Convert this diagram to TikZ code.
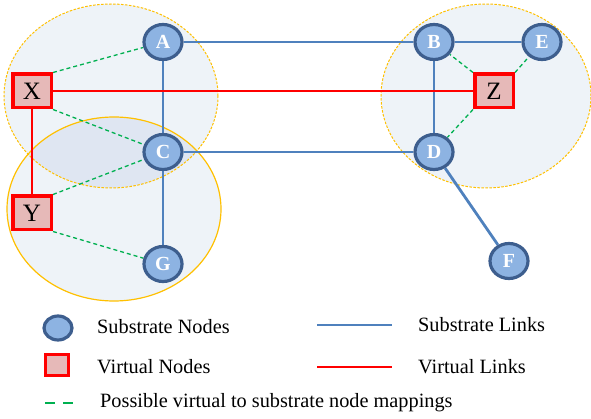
\documentclass[tikz,border=0pt]{standalone}
\usepackage{fontspec}
\setmainfont{Liberation Serif}
\usetikzlibrary{shapes.geometric}
\pgfdeclarelayer{regions}
\pgfdeclarelayer{links}
\pgfsetlayers{regions,links,main}
\definecolor{nodefill}{HTML}{8DB3E2}
\definecolor{nodeborder}{HTML}{3D5E8E}
\definecolor{slink}{HTML}{4F81BD}
\definecolor{vfill}{HTML}{E6B9B8}
\definecolor{vred}{HTML}{FF0000}
\definecolor{mapgreen}{HTML}{00B050}
\definecolor{regfill}{HTML}{EEF3F8}
\definecolor{regover}{HTML}{DFE6F2}
\definecolor{regline}{HTML}{FFC000}
\tikzset{
  snode/.style={ellipse, draw=nodeborder, fill=nodefill, line width=3.2pt,
    minimum width=38pt, minimum height=35pt, inner sep=0pt,
    text=white, font=\fontsize{20}{20}\selectfont\bfseries},
  vnode/.style={rectangle, draw=vred, fill=vfill, line width=3.5pt,
    minimum width=38.5pt, minimum height=33.5pt, inner sep=0pt,
    font=\fontsize{25}{25}\selectfont},
  slinkst/.style={slink, line width=2.8pt},
  vlinkst/.style={vred, line width=2.8pt},
  mapst/.style={mapgreen, line width=1.3pt, dash pattern=on 4pt off 3pt},
  regdash/.style={regline, line width=1pt, dash pattern=on 2.5pt off 1.5pt},
  regsolid/.style={regline, line width=1.2pt},
  legtext/.style={anchor=west, inner sep=0pt, font=\fontsize{20.3}{24}\selectfont},
  legsnode/.style={snode, minimum width=28pt, minimum height=24pt},
  legvnode/.style={vnode, line width=3pt, minimum width=23pt, minimum height=21pt},
}
\begin{document}
\begin{tikzpicture}[x=1pt,y=-1pt]
\useasboundingbox (0,0) rectangle (591,419);
% regions
\begin{pgfonlayer}{regions}
\fill[regfill] (111,96) ellipse [x radius=107pt, y radius=92pt];
\fill[regfill] (114,209) ellipse [x radius=107pt, y radius=92pt];
\fill[regfill] (486,96) ellipse [x radius=105pt, y radius=92pt];
\begin{scope}
  \clip (111,96) ellipse [x radius=107pt, y radius=92pt];
  \fill[regover] (114,209) ellipse [x radius=107pt, y radius=92pt];
\end{scope}
\draw[regdash] (111,96) ellipse [x radius=107pt, y radius=92pt];
\draw[regsolid] (114,209) ellipse [x radius=107pt, y radius=92pt];
\draw[regdash] (486,96) ellipse [x radius=105pt, y radius=92pt];
\end{pgfonlayer}
% nodes
\path (163,42) node[snode] (A) {A}
      (163,152) node[snode] (C) {C}
      (163,264) node[snode] (G) {G}
      (434,42) node[snode] (B) {B}
      (542,42) node[snode] (E) {E}
      (434,152) node[snode] (D) {D}
      (509,261) node[snode] (F) {F}
      (32,91) node[vnode] (X) {X}
      (32,213) node[vnode] (Y) {Y}
      (494,91) node[vnode] (Z) {Z};
% links
\begin{pgfonlayer}{links}
\draw[mapst] (X.north east) -- (A);
\draw[mapst] (X.south east) -- (C);
\draw[mapst] (Y.north east) -- (C);
\draw[mapst] (Y.south east) -- (G);
\draw[mapst] (Z.north west) -- (B);
\draw[mapst] (Z.north east) -- (E);
\draw[mapst] (Z.south west) -- (D);
\draw[slinkst] (A) -- (B);
\draw[slinkst] (A) -- (C);
\draw[slinkst] (C) -- (G);
\draw[slinkst] (C) -- (D);
\draw[slinkst] (B) -- (D);
\draw[slinkst] (B) -- (E);
\draw[slinkst] (D) -- (F);
\draw[vlinkst] (X) -- (Z);
\draw[vlinkst] (X) -- (Y);
\end{pgfonlayer}
% legend
\node[legsnode] (lsn) at (58,328) {};
\node[legtext] (lsnt) at (97,327) {Substrate Nodes};
\node[legvnode] (lvn) at (57,365) {};
\node[legtext] (lvnt) at (97,367) {Virtual Nodes};
\coordinate (lsl1) at (317,325);
\coordinate (lsl2) at (392,325);
\draw[slinkst] (lsl1) -- (lsl2);
\node[legtext] (lslt) at (418,325) {Substrate Links};
\coordinate (lvl1) at (317,367);
\coordinate (lvl2) at (392,367);
\draw[vlinkst] (lvl1) -- (lvl2);
\node[legtext] (lvlt) at (418,367) {Virtual Links};
\coordinate (lm1) at (45,403);
\coordinate (lm2) at (73,403);
\draw[mapgreen, line width=2.6pt, dash pattern=on 10pt off 8pt] (lm1) -- (lm2);
\node[legtext] (lmt) at (100,403) {Possible virtual to substrate node mappings};
\end{tikzpicture}
\end{document}
